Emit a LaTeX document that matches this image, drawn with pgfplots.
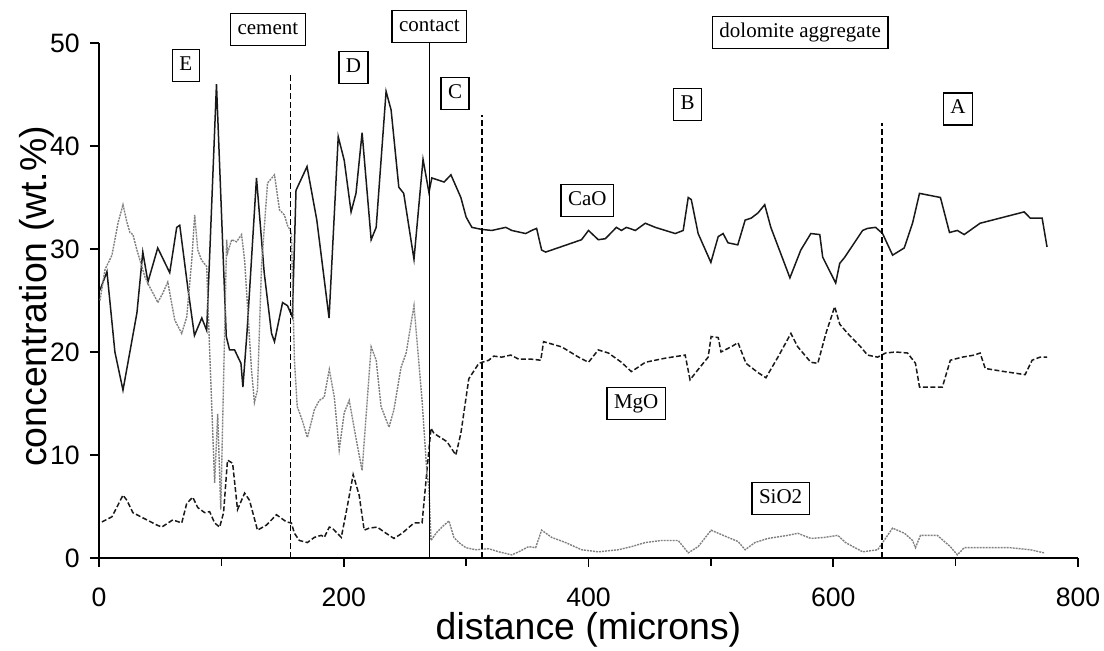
\documentclass[border=0pt]{standalone}
\usepackage{fontspec}
\setmainfont{Liberation Sans}
\newfontfamily\serif{Liberation Serif}
\usepackage{pgfplots}
\pgfplotsset{compat=1.18}
\begin{document}
\begin{tikzpicture}[
  lbox/.style={draw, line width=0.65pt, fill=white, font=\serif\fontsize{10.5}{12}\selectfont,
    inner xsep=3.5pt, inner ysep=3pt, text height=7.5pt, text depth=2.5pt, anchor=center}]
\useasboundingbox (-49.5pt,-46.5pt) rectangle (502.5pt,279pt);
\begin{axis}[
  at={(0,0)}, anchor=south west,
  scale only axis, width=489.5pt, height=257.5pt,
  xmin=0, xmax=800, ymin=0, ymax=50,
  axis x line*=bottom, axis y line*=left,
  axis line style={line width=0.8pt, -},
  xtick={0,200,400,600,800}, minor xtick={100,300,500,700},
  ytick={0,10,20,30,40,50},
  tick align=outside, major tick length=4.5pt, minor tick length=4pt,
  tick style={line width=0.8pt, black},
  /pgf/number format/assume math mode=true,
  ticklabel style={font=\fontsize{13.3}{16}\selectfont, inner sep=0pt},
  xticklabel style={anchor=north, yshift=-10.5pt},
  yticklabel style={anchor=east, xshift=-5pt},
  xlabel={distance (microns)}, ylabel={concentration (wt.\%)},
  label style={font=\fontsize{18.7}{22}\selectfont},
  xlabel style={at={(axis description cs:0.5,-0.1592)}, anchor=base},
  ylabel style={at={(axis description cs:-0.0541,0.508)}, anchor=base},
  clip=false,
]
% CaO
\addplot[black!90, line width=0.75pt] coordinates {
(0.8,26)(6.5,27.8)(13,20)(19.6,16.3)(31,23.8)(35.8,29.7)(40,26.8)(48,30.1)(57.8,27.7)(63.5,32.1)(66,32.3)(72.5,26.3)(78,21.6)(84,23.3)(88,22.1)(96,46)(104,21.5)(106.7,20.2)(110.8,20.2)(116,18.9)(117.6,16.6)(121,22)(128.7,36.9)(135,27.7)(141,21.8)(143.4,21)(150,24.8)(154,24.5)(158,23.4)(161,35.7)(170,38)(178,32.8)(188,23.3)(195.5,40.9)(200.4,38.6)(206,33.6)(210,35.4)(215,41.3)(222.4,30.9)(226.5,32.1)(234.6,45.3)(238.7,43.5)(245,36)(249,35.4)(257.4,29)(264.8,38.7)(269.6,35.5)(272,36.9)(282,36.5)(287.6,37.2)(295.7,35)(300,33.1)(304.7,32.1)(312.8,31.9)(321,31.8)(332.4,32.1)(337.3,31.8)(348.7,31.5)(353.6,31.8)(357.6,32)(361.7,29.9)(365,29.7)(394.3,30.9)(400,31.8)(408,30.9)(413.8,31)(422.8,32.1)(426.9,31.8)(431,32.1)(438.3,31.8)(446.4,32.5)(454.6,32.1)(470.9,31.5)(477.4,31.8)(481.5,35)(484,34.8)(489.6,31.5)(500,28.7)(506,31.2)(510,31.5)(514,30.6)(522,30.4)(528,32.8)(533,33)(538.5,33.5)(544,34.3)(549,32.1)(564.6,27.2)(573.5,29.9)(581.7,31.5)(589,31.4)(591.4,29.2)(602,26.7)(605.3,28.6)(609.4,29.2)(624,31.8)(628,32)(634.6,32.1)(640.3,31.5)(648.5,29.4)(658,30.1)(664.8,32.5)(670.5,35.4)(687.6,35)(695,31.6)(701.4,31.8)(707,31.4)(720,32.5)(756,33.6)(761,33)(770.7,33)(774.7,30.2)
};
% MgO
\addplot[black!90, line width=0.75pt, dash pattern=on 2.5pt off 1.2pt] coordinates {
(2.4,3.5)(10.6,4)(19.6,6.1)(22.8,5.6)(27.7,4.4)(35.8,3.9)(47.3,3.2)(51.3,3)(60.3,3.7)(67.6,3.4)(71.7,5.3)(76.6,5.9)(80.7,4.9)(86.4,4.4)(90.4,4.5)(94.5,3.4)(98.6,3)(101.8,4.4)(105,9.5)(109.2,9.2)(113.2,4.7)(119,6.3)(123,5.6)(129.5,2.7)(136.9,3.2)(145,4.2)(153.2,3.5)(157.2,3.4)(159.7,2.4)(163.7,1.7)(170.3,1.5)(176,2)(181.7,2.2)(184.1,2)(188.2,3)(190.6,2.9)(198,2)(202.9,5)(207.7,8.1)(212.6,6.1)(216.7,2.7)(220.8,2.9)(227.3,3)(234.6,2.4)(241,1.9)(247.7,2.4)(257.4,3.4)(264,3.4)(268,8.5)(271.3,12.6)(273.7,12.1)(284.3,11.3)(291.6,10)(295.7,12.1)(302.2,17.4)(310.4,18.9)(318.5,19.2)(322.6,19.6)(329.1,19.5)(336.5,19.7)(343,19.3)(353.6,19.3)(361,19.2)(363.3,21)(378,20.5)(391.9,19.5)(400,19)(408,20.2)(416.3,19.9)(426.9,19)(435,18.1)(439,18.4)(446.4,19)(462.7,19.4)(479,19.7)(483,17.3)(489.6,18.3)(497.8,19.5)(500.2,21.5)(506,21.4)(508.3,20)(516.5,20.5)(522.2,20.9)(528.7,18.9)(538.5,18)(545,17.5)(554.8,19.5)(565.4,21.8)(571,20.5)(581.7,19)(587.4,18.9)(594,21.8)(601.2,24.4)(605.3,22.7)(611.8,21.8)(622.4,20.5)(628,19.7)(636.3,19.5)(642.8,19.9)(651,20)(660.7,19.9)(667.2,18.9)(670.5,16.6)(689.2,16.6)(695.7,19.2)(705.5,19.5)(715.3,19.7)(720,19.9)(724.2,18.4)(739.7,18.1)(756.8,17.8)(762.5,19.2)(769,19.5)(774.7,19.5)
};
% SiO2
\addplot[black!50, line width=0.7pt, dash pattern=on 1pt off 0.5pt] coordinates {
(0.8,25)(4.9,28)(10.6,29.4)(15.5,32.5)(19.6,34.3)(22.8,32.6)(25.3,31.6)(27.7,31.4)(31,29.9)(37.5,27.3)(41.5,26.3)(47.3,25)(48,24.8)(52.1,25.7)(56.2,26.8)(61.9,23.1)(67.6,21.8)(71.7,23.4)(75.8,28.9)(78.2,33.3)(80.7,29.9)(83.9,28.9)(88,28.3)(90.4,20.2)(94.5,7.3)(97,14)(99.5,4.7)(104.3,30.9)(105,29.6)(108.4,30.9)(112.4,30.7)(116.5,31.4)(119,28.9)(124.6,18.3)(127,15.1)(129.5,16.3)(132.8,28.3)(137.7,36.4)(143.4,37.2)(147.5,33.8)(151.5,33.3)(154,32.3)(157.2,31.6)(159.7,19.2)(162,14.7)(166,13.4)(170.3,11.7)(176,14.4)(180,15.3)(184,15.6)(188.2,18.3)(192.3,15.6)(196.3,10.5)(200.4,14.1)(204.5,15.3)(210.2,11.5)(215,8.5)(222.4,20.5)(226.5,19.2)(230.5,14.7)(237,12.7)(241,14.4)(246.8,18.5)(251,19.9)(257.4,24.5)(264,15.3)(268,8.2)(269.6,6.9)(271.3,1.7)(275.4,2.4)(280.2,3)(286,3.6)(290,2)(294,1.5)(299.8,1)(308,0.8)(318.5,0.9)(326.7,0.6)(337.3,0.3)(343,0.6)(351,1.1)(356.8,1)(361.7,2.7)(369.9,2)(381.3,1.5)(394.3,0.8)(408,0.6)(424.4,0.8)(435,1.1)(446.4,1.5)(459.5,1.7)(473.3,1.7)(481.5,0.5)(489.6,1.1)(500.2,2.7)(514,2)(522.2,1.6)(528,0.8)(536,1.5)(546.7,1.9)(563,2.2)(571,2.4)(581.7,1.9)(593,2)(603.7,2.2)(610,1.5)(624,0.6)(636.3,0.8)(648.5,2.9)(658.2,2.4)(664.8,1.7)(667.2,1)(671.3,2.2)(685,2.2)(695.7,1.1)(701.4,0.3)(707,1)(723.4,1)(744.6,1)(761,0.8)(772.3,0.5)
};
% boundary lines
\addplot[black, line width=0.7pt, dash pattern=on 3pt off 1.5pt] coordinates {(156.4,0)(156.4,47.1)};
\addplot[black, line width=0.7pt] coordinates {(270,0)(270,50)};
\addplot[black, line width=0.7pt, dash pattern=on 3pt off 1.5pt] coordinates {(313,0)(313,43)};
\addplot[black, line width=0.7pt, dash pattern=on 3pt off 1.5pt] coordinates {(640,0)(640,42.2)};
% labels
\node[lbox] at (axis cs:71,47.8) {E};
\node[lbox] at (axis cs:138,51.3) {cement};
\node[lbox] at (axis cs:208,47.6) {D};
\node[lbox] at (axis cs:270,51.6) {contact};
\node[lbox] at (axis cs:291,45.1) {C};
\node[lbox] at (axis cs:481,44) {B};
\node[lbox] at (axis cs:573,51) {dolomite aggregate};
\node[lbox] at (axis cs:702,43.6) {A};
\node[lbox] at (axis cs:399,34.7) {CaO};
\node[lbox] at (axis cs:439,15) {MgO};
\node[lbox] at (axis cs:557,5.8) {SiO2};
\end{axis}
\end{tikzpicture}
\end{document}
